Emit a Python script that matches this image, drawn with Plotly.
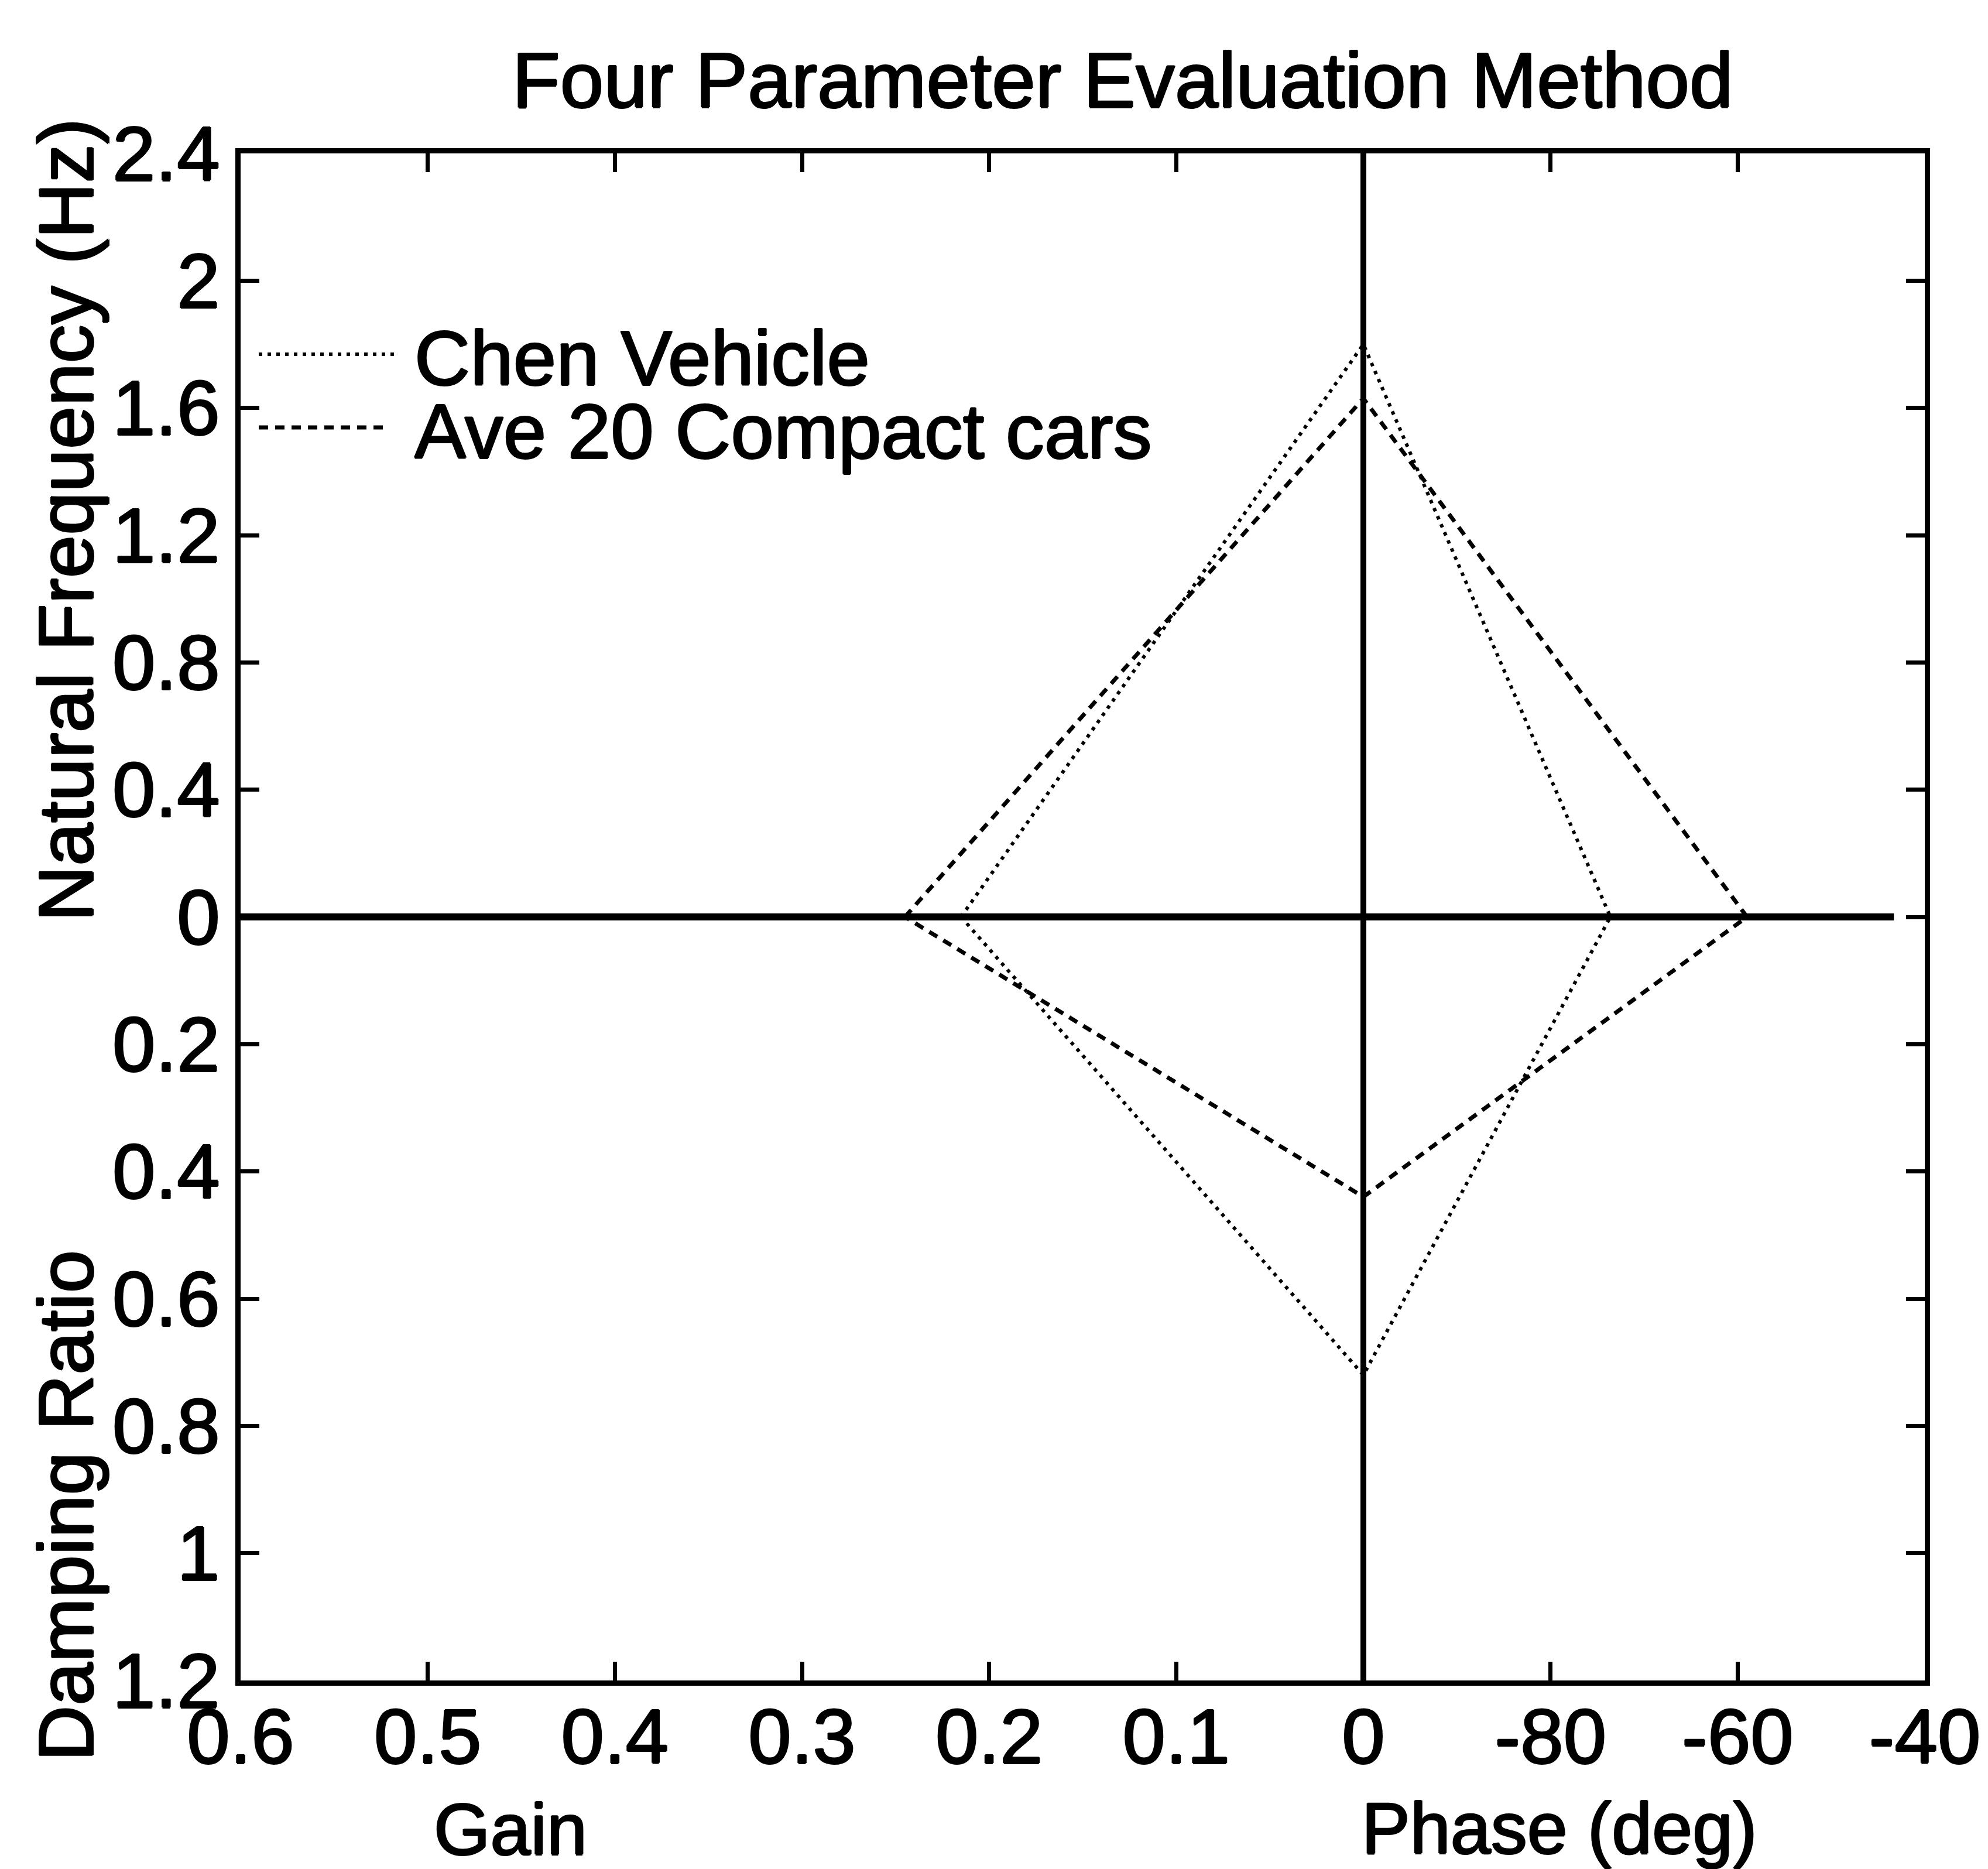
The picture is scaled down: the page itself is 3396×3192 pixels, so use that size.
import plotly.graph_objects as go

# Four-parameter evaluation: gain / phase on the horizontal axis,
# natural frequency (up) / damping ratio (down) on the vertical axis.
series_names = ["Chen Vehicle", "Ave 20 Compact cars"]
gain = [0.215, 0.245]
natural_freq_hz = [1.80, 1.63]
phase_deg = [-73.6, -59.0]
damping_ratio = [0.72, 0.44]

gain_tick_labels = ["0.6", "0.5", "0.4", "0.3", "0.2", "0.1", "0"]
phase_tick_labels = ["-80", "-60", "-40"]
freq_tick_labels = ["0", "0.4", "0.8", "1.2", "1.6", "2", "2.4"]
damping_tick_labels = ["0.2", "0.4", "0.6", "0.8", "1", "1.2"]

# horizontal reference line runs from the gain limit to this phase
ref_gain_end = 0.6
ref_phase_end = -43.3

FONT = "Liberation Sans, Arial, Helvetica, sans-serif"
FS = 132
FS_XTITLE = 124
# slightly heavier glyph strokes, like a printed figure
HEAVY = "1.5px 0px 0px black, -1.5px 0px 0px black, 0px 1.5px 0px black, 0px -1.5px 0px black"


def font(size):
    return dict(family=FONT, size=size, color="black", shadow=HEAVY)


# composite axis mappings
def gx(g):          # gain -> left half (0.1 per unit, 0 at centre)
    return -g / 0.1


def px_(p):         # phase -> right half (20 deg per unit, -100 at centre)
    return (p + 100.0) / 20.0


def fy(f):          # natural frequency -> upper half
    return f


def dy(d):          # damping ratio -> lower half (0.2 per 0.4 units)
    return -d * 2.0


x_tickvals = [gx(float(t)) for t in gain_tick_labels] + [px_(float(t)) for t in phase_tick_labels]
x_ticktext = gain_tick_labels + phase_tick_labels
y_tickvals = [fy(float(t)) for t in freq_tick_labels] + [dy(float(t)) for t in damping_tick_labels]
y_ticktext = freq_tick_labels + damping_tick_labels

styles = [
    dict(color="black", width=6, dash="6px,9px"),
    dict(color="black", width=7, dash="16px,12px"),
]

fig = go.Figure()

# axis cross lines
fig.add_trace(go.Scatter(
    x=[gx(ref_gain_end), px_(ref_phase_end)], y=[0, 0], mode="lines",
    line=dict(color="black", width=12), showlegend=False, hoverinfo="skip"))
fig.add_trace(go.Scatter(
    x=[0, 0], y=[dy(float(damping_tick_labels[-1])), fy(float(freq_tick_labels[-1]))],
    mode="lines", line=dict(color="black", width=10), showlegend=False, hoverinfo="skip"))

# one diamond per vehicle: gain -> frequency -> phase -> damping -> gain
for i, name in enumerate(series_names):
    xs = [gx(gain[i]), 0, px_(phase_deg[i]), 0, gx(gain[i])]
    ys = [0, fy(natural_freq_hz[i]), 0, dy(damping_ratio[i]), 0]
    fig.add_trace(go.Scatter(x=xs, y=ys, mode="lines", name=name,
                             line=styles[i], showlegend=False))

# plot-area geometry (pixels) used for paper placement
L, R, T, B = 411, 3288, 262, 2870
W, H = R - L, B - T


def pxp(xpix):
    return (xpix - L) / W


def pyp(ypix):
    return (B - ypix) / H


shapes = []
annotations = []
legend_rows = [(605, 675), (730, 665)]
for i, name in enumerate(series_names):
    ypix, xend = legend_rows[i]
    shapes.append(dict(type="line", xref="paper", yref="paper",
                       x0=pxp(442), x1=pxp(xend), y0=pyp(ypix), y1=pyp(ypix),
                       line=styles[i]))
    annotations.append(dict(text=name, xref="paper", yref="paper",
                            x=pxp(706), y=pyp(ypix + 6), xanchor="left", yanchor="middle",
                            showarrow=False, font=font(FS)))

annotations += [
    dict(text="Four Parameter Evaluation Method", xref="paper", yref="paper",
         x=pxp(1918), y=pyp(136), xanchor="center", yanchor="middle",
         showarrow=False, font=font(FS + 2)),
    dict(text="Gain", xref="paper", yref="paper",
         x=pxp(872), y=pyp(3124), xanchor="center", yanchor="middle",
         showarrow=False, font=font(FS_XTITLE)),
    dict(text="Phase (deg)", xref="paper", yref="paper",
         x=pxp(2664), y=pyp(3122), xanchor="center", yanchor="middle",
         showarrow=False, font=font(FS_XTITLE)),
    dict(text="Natural Frequency (Hz)", xref="paper", yref="paper",
         x=pxp(112), y=pyp(888), xanchor="center", yanchor="middle", textangle=-90,
         showarrow=False, font=font(FS)),
    dict(text="Damping Ratio", xref="paper", yref="paper",
         x=pxp(112), y=pyp(2572), xanchor="center", yanchor="middle", textangle=-90,
         showarrow=False, font=font(FS)),
]

axis_common = dict(
    showgrid=False, zeroline=False, showline=True, linecolor="black", linewidth=9,
    mirror="ticks", ticks="inside", ticklen=32, tickwidth=7, tickcolor="black",
    tickfont=font(FS),
)

fig.update_layout(
    width=3396, height=3192,
    margin=dict(l=L, r=3396 - R, t=T, b=3192 - B, pad=0),
    paper_bgcolor="white", plot_bgcolor="white",
    showlegend=False,
    xaxis=dict(range=[x_tickvals[0], x_tickvals[-1]], tickmode="array",
               tickvals=x_tickvals, ticktext=x_ticktext, ticklabelstandoff=-26,
               **axis_common),
    yaxis=dict(range=[min(y_tickvals), max(y_tickvals)], tickmode="array",
               tickvals=y_tickvals, ticktext=y_ticktext, **axis_common),
    shapes=shapes,
    annotations=annotations,
)

fig.write_html("out.html")
